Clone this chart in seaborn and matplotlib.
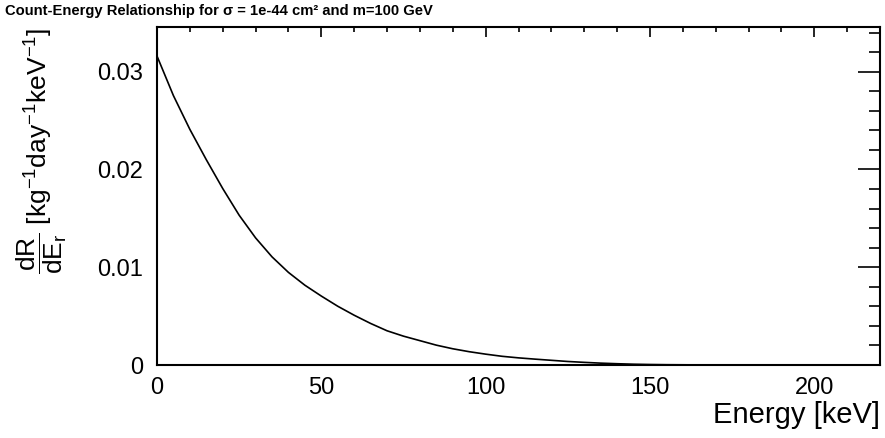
import numpy as np
import pandas as pd
import matplotlib
matplotlib.use("Agg")
import matplotlib.pyplot as plt
from matplotlib.ticker import MultipleLocator
import seaborn as sns

# Data
energy_kev = [0, 5, 10, 15, 20, 25, 30, 35, 40, 45, 50, 55, 60, 65, 70, 75, 80, 85,
              90, 95, 100, 105, 110, 115, 120, 125, 130, 135, 140, 145, 150, 155,
              160, 165, 170]
rate = [0.0316, 0.02755, 0.02410, 0.02100, 0.01805, 0.01532, 0.01300, 0.01106,
        0.00947, 0.00816, 0.00705, 0.00601, 0.00509, 0.00425, 0.00350, 0.00295,
        0.00249, 0.00203, 0.00166, 0.00136, 0.00111, 0.00089, 0.00073, 0.00060,
        0.00048, 0.00036, 0.00027, 0.00019, 0.00013, 0.00008, 0.00005, 0.00003,
        0.00002, 0.00001, 0.0]
x_ticks = [0, 50, 100, 150, 200]
x_tick_labels = ["0", "50", "100", "150", "200"]
y_ticks = [0, 0.01, 0.02, 0.03]
y_tick_labels = ["0", "0.01", "0.02", "0.03"]

title = "Count-Energy Relationship for \u03c3 = 1e-44 cm\u00b2 and m=100 GeV"
xlabel = "Energy [keV]"
ylabel = r"$\dfrac{dR}{dE_r}$ [kg$^{-1}$day$^{-1}$keV$^{-1}$]"

df = pd.DataFrame({"E": energy_kev, "R": rate})

sns.set_theme(style="white")
plt.rcParams["font.family"] = ["Liberation Sans", "DejaVu Sans"]
plt.rcParams["mathtext.fontset"] = "custom"
plt.rcParams["mathtext.rm"] = "Liberation Sans"
plt.rcParams["mathtext.it"] = "Liberation Sans"
plt.rcParams["mathtext.bf"] = "Liberation Sans:bold"
plt.rcParams["text.color"] = "black"
plt.rcParams["axes.labelcolor"] = "black"

fig = plt.figure(figsize=(8.85, 4.38), dpi=100)
ax = fig.add_axes([157 / 885, 1 - 365 / 438, (880 - 157) / 885, (365 - 27.3) / 438])

sns.lineplot(data=df, x="E", y="R", ax=ax, color="black", linewidth=1.2)

ax.set_xlim(0, 220)
ax.set_ylim(0, 0.03454)
ax.set_xticks(x_ticks)
ax.set_xticklabels(x_tick_labels)
ax.set_yticks(y_ticks)
ax.set_yticklabels(y_tick_labels)
ax.xaxis.set_minor_locator(MultipleLocator(10))
ax.yaxis.set_minor_locator(MultipleLocator(0.002))

for s in ax.spines.values():
    s.set_color("black")
    s.set_linewidth(1.5)

ax.tick_params(axis="both", which="both", direction="in", top=True, right=True,
               colors="black", labelsize=17)
ax.tick_params(axis="x", which="major", length=7.2, width=1.2, pad=9)
ax.tick_params(axis="x", which="minor", length=3.6, width=1.2)
ax.tick_params(axis="y", which="major", length=15.8, width=1.2, pad=10)
ax.tick_params(axis="y", which="minor", length=7.9, width=1.2)

ax.set_xlabel(xlabel, fontsize=21, loc="right", labelpad=1)
ax.set_ylabel(ylabel, fontsize=19, loc="top", labelpad=20)
ax.set_title("")
fig.text(5 / 885, 1 - 11 / 438, title, fontsize=10.6, fontweight="bold",
         ha="left", va="center", color="black")

fig.savefig("out.png", dpi=100, facecolor="white")
